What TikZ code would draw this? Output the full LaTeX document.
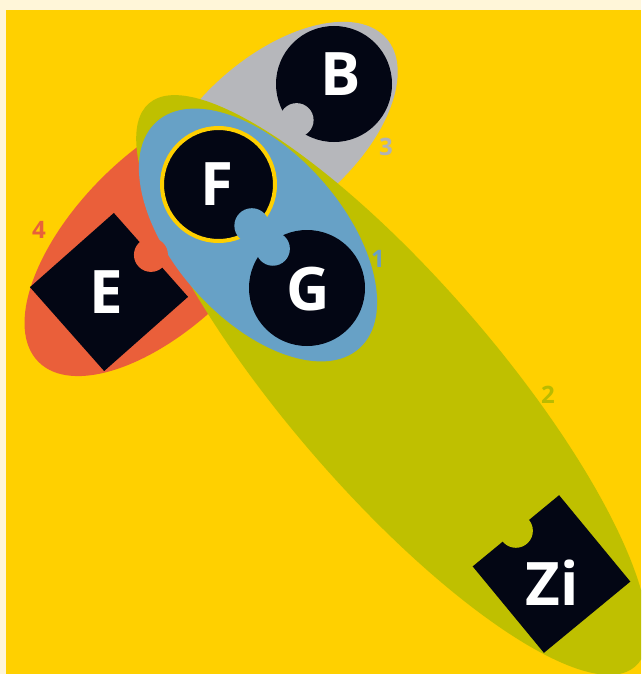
\documentclass[tikz,border=0pt]{standalone}
\usepackage{fontspec}
\setmainfont{Open Sans}
\usetikzlibrary{calc}
\definecolor{bgcream}{HTML}{FFF6D9}
\definecolor{bgyellow}{HTML}{FFD000}
\definecolor{setolive}{HTML}{BFC000}
\definecolor{setblue}{HTML}{67A1C6}
\definecolor{setgray}{HTML}{B6B7BB}
\definecolor{setred}{HTML}{EA5F3A}
\definecolor{darkfill}{HTML}{030614}
\definecolor{numblue}{HTML}{6A9FC4}
\definecolor{numolive}{HTML}{B9BB00}
\definecolor{numgray}{HTML}{B0B2B6}
\definecolor{numred}{HTML}{E8613A}
\begin{document}
\begin{tikzpicture}[x=1pt,y=1pt,
  piece/.style={fill=darkfill, draw=none, inner sep=0pt, outer sep=0pt},
  letter/.style={text=white, font=\fontsize{60}{60}\selectfont\bfseries, inner sep=0pt},
  num/.style={font=\fontsize{24}{24}\selectfont\bfseries, inner sep=0pt}]
\useasboundingbox (0,0) rectangle (641,-674);
\fill[bgcream] (0,0) rectangle (641,-674);
\fill[bgyellow] (6,-10) rectangle (641,-674);
\begin{scope}
\clip (6,-10) rectangle (641,-674);
\fill[setred, rotate around={44.7:(163.5,-238)}] (163.5,-238) ellipse [x radius=176, y radius=86];
\fill[setgray, rotate around={40.8:(276,-134)}] (276,-134) ellipse [x radius=146, y radius=78];
\fill[setolive, rotate around={-49.2:(392,-385)}] (392,-385) ellipse [x radius=372, y radius=105];
\fill[setblue, rotate around={-48.2:(258,-235)}] (258,-235) ellipse [x radius=152, y radius=84];
\end{scope}
% pieces
\node[piece, circle, minimum size=116] (B) at (334,-84) {};
\node[piece, circle, minimum size=113, draw=bgyellow, line width=4] (F) at (218.5,-184.5) {};
\node[piece, circle, minimum size=116] (G) at (307,-288) {};
\node[piece, rectangle, minimum size=112, rotate=41.5] (E) at (109,-292) {};
\node[piece, rectangle, minimum size=112, rotate=39.5] (Zi) at (551.5,-574) {};
% bites
\fill[setgray] ($(B)+(224:52)$) circle (17);
\fill[setblue] ($(F)+(-51:53)$) circle (17.5);
\fill[setblue] ($(G)+(131:52)$) circle (17);
\fill[setred] (E.east) circle (17);
\fill[setolive] (Zi.north) circle (17);
% letters
\node[letter] (Bt) at (341,-74) {B};
\node[letter] (Ft) at (217,-184) {F};
\node[letter] (Gt) at (308,-289) {G};
\node[letter] (Et) at (106,-292) {E};
\node[letter] (Zit) at (552,-583) {Zi};
% set numbers
\node[num, text=numblue] (n1) at (378,-259) {1};
\node[num, text=numolive] (n2) at (548,-395) {2};
\node[num, text=numgray] (n3) at (386,-147) {3};
\node[num, text=numred] (n4) at (39,-230) {4};
\end{tikzpicture}
\end{document}
